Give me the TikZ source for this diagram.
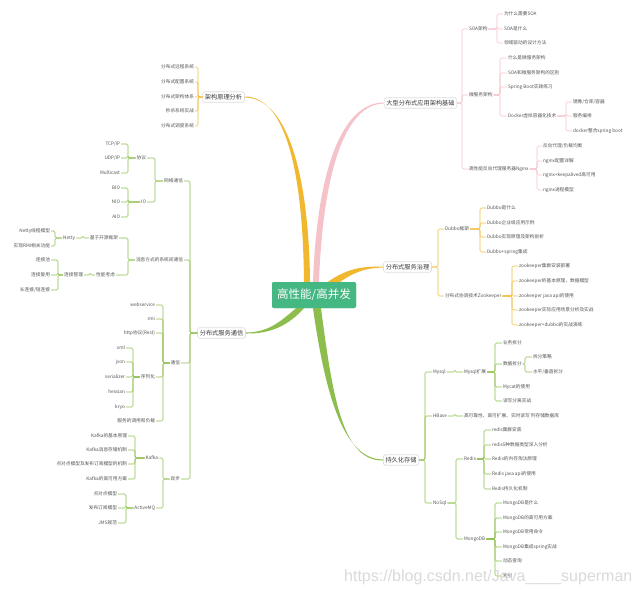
\documentclass[tikz,border=0pt]{standalone}
\usepackage{fontspec}
\setmainfont{Noto Sans CJK SC}
\newfontfamily\wmfont{Liberation Sans}
\definecolor{cgold}{HTML}{F0B72F}
\definecolor{cpink}{HTML}{F5C2C9}
\definecolor{cgreen}{HTML}{8DBE4D}
\definecolor{croot}{HTML}{45B783}
\definecolor{ctext}{HTML}{555555}
\definecolor{cbox}{HTML}{DADADA}
\newcommand\kidsR[4]{\path (#3,0) coordinate (tmpb);
  \foreach \k in {#4}{\draw[#1] (#2.east) -- (tmpb |- #2.east) |- (\k.west);}}
\newcommand\kidsL[4]{\path (#3,0) coordinate (tmpb);
  \foreach \k in {#4}{\draw[#1] (#2.west) -- (tmpb |- #2.west) |- (\k.east);}}
\tikzset{
  leaf/.style={font=\fontsize{4.7}{5.5}\selectfont, text=ctext, inner sep=0.8pt},
  leafR/.style={leaf, anchor=west},
  leafL/.style={leaf, anchor=east},
  mainbox/.style={draw=cbox, fill=white, rounded corners=1.5pt, font=\fontsize{6.2}{7}\selectfont,
    text=ctext!70!black, inner sep=2.2pt, line width=0.4pt},
  rootbox/.style={fill=croot, rounded corners=2pt, text=white, font=\fontsize{11.5}{12}\selectfont,
    minimum width=84pt, minimum height=26pt, inner sep=0pt},
  gl/.style={draw=cgold!90!white, line width=0.6pt, rounded corners=1.5pt},
  pl/.style={draw=cpink, line width=0.6pt, rounded corners=1.5pt},
  vl/.style={draw=cgreen, line width=0.6pt, rounded corners=1.5pt},
}
\begin{document}
\begin{tikzpicture}[x=1pt,y=-1pt]
\useasboundingbox[fill=white] (0,0) rectangle (640,594);

% main boxes (placed first for anchors)
\node[mainbox] (jg) at (223.5,97) {架构原理分析};
\node[mainbox] (dx) at (420.5,103) {大型分布式应用架构基础};
\node[mainbox] (zl) at (407.5,267) {分布式服务治理};
\node[mainbox] (tx) at (221.5,333) {分布式服务通信};
\node[mainbox] (cc) at (401,460) {持久化存储};
\node[rootbox] (root) at (314,295) {高性能/高并发};

% main branch curves
\fill[cgold] ([yshift=0.5pt]jg.east) .. controls (288,96.5) and (303,180) .. ([xshift=-10pt]root.north)
  -- ([xshift=-4pt]root.north) .. controls (309,180) and (289,97.5) .. ([yshift=-0.5pt]jg.east) -- cycle;
\fill[cpink] ([xshift=-1pt]root.north) .. controls (317,170) and (342,102.5) .. ([yshift=0.5pt]dx.west)
  -- ([yshift=-0.5pt]dx.west) .. controls (345,104) and (323,172) .. ([xshift=5pt]root.north) -- cycle;
\fill[cgold] ([xshift=14pt]root.north) .. controls (348,268) and (362,266.5) .. ([yshift=0.5pt]zl.west)
  -- ([yshift=-0.5pt]zl.west) .. controls (364,268) and (352,273) .. ([xshift=22pt,yshift=-3pt]root.north) -- cycle;
\fill[cgreen] ([xshift=-18pt]root.south) .. controls (280,322) and (268,332.5) .. ([yshift=0.5pt]tx.east)
  -- ([yshift=-0.5pt]tx.east) .. controls (270,334) and (288,326) .. ([xshift=-10pt]root.south) -- cycle;
\fill[cgreen] ([xshift=-1pt]root.south) .. controls (326,400) and (345,459.5) .. ([yshift=0.5pt]cc.west)
  -- ([yshift=-0.5pt]cc.west) .. controls (343,461) and (333,400) .. ([xshift=7pt]root.south) -- cycle;

% redraw boxes on top
\node[mainbox] at (jg) {架构原理分析};
\node[mainbox] at (dx) {大型分布式应用架构基础};
\node[mainbox] at (zl) {分布式服务治理};
\node[mainbox] at (tx) {分布式服务通信};
\node[mainbox] at (cc) {持久化存储};
\node[rootbox] at (root) {高性能/高并发};

% ---------- top-left (gold) ----------
\node[leafL] (a1) at (195,67) {分布式远程系统};
\node[leafL] (a2) at (195,82) {分布式配置系统};
\node[leafL] (a3) at (195,97) {分布式架构体系};
\node[leafL] (a4) at (195,111) {秒杀系统实战};
\node[leafL] (a5) at (195,126) {分布式调度系统};
\kidsL{gl}{jg}{198}{a1,a2,a3,a4,a5}

% ---------- top-right (pink) ----------
\node[leafR] (soa) at (468,29) {SOA架构};
\node[leafR] (wfw) at (468,95) {微服务架构};
\node[leafR] (ngx) at (468,169) {高性能反向代理服务器Nginx};
\kidsR{pl}{dx}{462}{soa,wfw,ngx}
\node[leafR] (s1) at (503,14) {为什么需要SOA};
\node[leafR] (s2) at (503,29) {SOA是什么};
\node[leafR] (s3) at (503,43) {领域驱动的设计方法};
\kidsR{pl}{soa}{497}{s1,s2,s3}
\node[leafR] (w1) at (507,58) {什么是微服务架构};
\node[leafR] (w2) at (507,73) {SOA和微服务架构的区别};
\node[leafR] (w3) at (507,87) {Spring Boot实践练习};
\node[leafR] (dk) at (507,116) {Docker虚拟容器化技术};
\kidsR{pl}{wfw}{500}{w1,w2,w3,dk}
\node[leafR] (d1) at (572,102) {镜像/仓库/容器};
\node[leafR] (d2) at (572,116) {服务编排};
\node[leafR] (d3) at (572,131) {docker整合spring boot};
\kidsR{pl}{dk}{566}{d1,d2,d3}
\node[leafR] (n1) at (542,146) {反向代理/负载均衡};
\node[leafR] (n2) at (542,161) {nginx配置详解};
\node[leafR] (n3) at (542,175) {nginx+keepalived高可用};
\node[leafR] (n4) at (542,190) {nginx进程模型};
\kidsR{pl}{ngx}{537}{n1,n2,n3,n4}

% ---------- right middle (gold) ----------
\node[leafR] (db) at (444,229) {Dubbo框架};
\node[leafR] (zk) at (444,296) {分布式协调技术Zookeeper};
\kidsR{gl}{zl}{438}{db,zk}
\node[leafR] (b1) at (486,208) {Dubbo是什么};
\node[leafR] (b2) at (486,223) {Dubbo企业级应用示例};
\node[leafR] (b3) at (486,237) {Dubbo实现原理及架构剖析};
\node[leafR] (b4) at (486,252) {Dubbo+spring集成};
\kidsR{gl}{db}{480}{b1,b2,b3,b4}
\node[leafR] (z1) at (518,266) {zookeeper集群安装部署};
\node[leafR] (z2) at (518,281) {zookeeper的基本原理，数据模型};
\node[leafR] (z3) at (518,296) {zookeeper java api的使用};
\node[leafR] (z4) at (518,310) {zookeeper实际应用场景分析及实战};
\node[leafR] (z5) at (518,325) {zookeeper+dubbo的实战演练};
\kidsR{gl}{zk}{512}{z1,z2,z3,z4,z5}

% ---------- left (green) ----------
\node[leafL] (wl) at (184,181) {网络通信};
\node[leafL] (xx) at (184,260) {消息方式的系统间通信};
\node[leafL] (tt) at (181,363) {通信};
\node[leafL] (yb) at (181,479) {异步};
\kidsL{vl}{tx}{190}{wl,xx,tt,yb}
\node[leafL] (xy) at (147,158) {协议};
\node[leafL] (io) at (147,202) {IO};
\kidsL{vl}{wl}{155}{xy,io}
\node[leafL] (p1) at (121,144) {TCP/IP};
\node[leafL] (p2) at (121,158) {UDP/IP};
\node[leafL] (p3) at (121,173) {Multicast};
\kidsL{vl}{xy}{128}{p1,p2,p3}
\node[leafL] (i1) at (121,188) {BIO};
\node[leafL] (i2) at (121,202) {NIO};
\node[leafL] (i3) at (121,217) {AIO};
\kidsL{vl}{io}{128}{i1,i2,i3}
\node[leafL] (ky) at (119,238) {基于开源框架};
\node[leafL] (xn) at (116,275) {性能考虑};
\kidsL{vl}{xx}{128}{ky,xn}
\node[leafL] (nt) at (76,238) {Netty};
\kidsL{vl}{ky}{83}{nt}
\node[leafL] (t1) at (51,231) {Netty线程模型};
\node[leafL] (t2) at (51,246) {实现RMI相关功能};
\kidsL{vl}{nt}{55}{t1,t2}
\node[leafL] (lg) at (84,275) {连接管理};
\kidsL{vl}{xn}{90}{lg}
\node[leafL] (l1) at (51,260) {连接池};
\node[leafL] (l2) at (51,275) {连接复用};
\node[leafL] (l3) at (51,290) {长连接/短连接};
\kidsL{vl}{lg}{58}{l1,l2,l3}
\node[leafL] (c1) at (156,305) {webservice};
\node[leafL] (c2) at (156,319) {rmi};
\node[leafL] (c3) at (156,333) {http协议(Rest)};
\node[leafL] (xl) at (156,377) {序列化};
\node[leafL] (c5) at (156,421) {服务的调用和负载};
\kidsL{vl}{tt}{163}{c1,c2,c3,xl,c5}
\node[leafL] (x1) at (126,348) {xml};
\node[leafL] (x2) at (126,362) {json};
\node[leafL] (x3) at (126,377) {serializer};
\node[leafL] (x4) at (126,392) {hessian};
\node[leafL] (x5) at (126,407) {kryo};
\kidsL{vl}{xl}{133}{x1,x2,x3,x4,x5}
\node[leafL] (kf) at (159,458) {Kafka};
\node[leafL] (amq) at (156,508) {ActiveMQ};
\kidsL{vl}{yb}{163}{kf,amq}
\node[leafL] (k1) at (128,436) {Kafka的基本原理};
\node[leafL] (k2) at (128,450) {Kafka消息存储机制};
\node[leafL] (k3) at (128,464) {点对点模型及发布订阅模型的机制};
\node[leafL] (k4) at (128,479) {Kafka的高可用方案};
\kidsL{vl}{kf}{135}{k1,k2,k3,k4}
\node[leafL] (m1) at (118,494) {点对点模型};
\node[leafL] (m2) at (118,508) {发布订阅模型};
\node[leafL] (m3) at (118,523) {JMS规范};
\kidsL{vl}{amq}{126}{m1,m2,m3}

% ---------- bottom right (green) ----------
\node[leafR] (my) at (432,372) {Mysql};
\node[leafR] (hb) at (432,416) {HBase};
\node[leafR] (ns) at (432,503) {NoSql};
\kidsR{vl}{cc}{425}{my,hb,ns}
\node[leafR] (mye) at (463,372) {Mysql扩展};
\kidsR{vl}{my}{455}{mye}
\node[leafR] (e1) at (502,343) {业务拆分};
\node[leafR] (sj) at (502,364) {数据拆分};
\node[leafR] (e3) at (502,387) {Mycat的使用};
\node[leafR] (e4) at (502,401) {读写分离实战};
\kidsR{vl}{mye}{495}{e1,sj,e3,e4}
\node[leafR] (j1) at (532,357) {拆分策略};
\node[leafR] (j2) at (532,372) {水平/垂直拆分};
\kidsR{vl}{sj}{525}{j1,j2}
\node[leafR] (hbt) at (463,416) {高可靠性、高可扩展、实时读写 列存储数据库};
\kidsR{vl}{hb}{455}{hbt}
\node[leafR] (rd) at (463,459) {Redis};
\node[leafR] (mg) at (463,539) {MongoDB};
\kidsR{vl}{ns}{456}{rd,mg}
\node[leafR] (r1) at (491,430) {redis集群安装};
\node[leafR] (r2) at (491,445) {redis5种数据类型深入分析};
\node[leafR] (r3) at (491,459) {Redis的内存淘汰原理};
\node[leafR] (r4) at (491,474) {Redis java api的使用};
\node[leafR] (r5) at (491,489) {Redis持久化机制};
\kidsR{vl}{rd}{484}{r1,r2,r3,r4,r5}
\node[leafR] (g1) at (502,503) {MongoDB是什么};
\node[leafR] (g2) at (502,518) {MongoDB的高可用方案};
\node[leafR] (g3) at (502,532) {MongoDB常用命令};
\node[leafR] (g4) at (502,547) {MongoDB集成spring实战};
\node[leafR] (g5) at (502,561) {动态查询};
\node[leafR] (g6) at (502,576) {索引};
\kidsR{vl}{mg}{495}{g1,g2,g3,g4,g5,g6}

% watermark
\node[anchor=west, font=\fontsize{16}{16}\wmfont, text=black!16, opacity=0.9, inner sep=0pt] (wm)
  at (344,577) {https://blog.csdn.net/Java\_\_\_\_superman};
\end{tikzpicture}
\end{document}
